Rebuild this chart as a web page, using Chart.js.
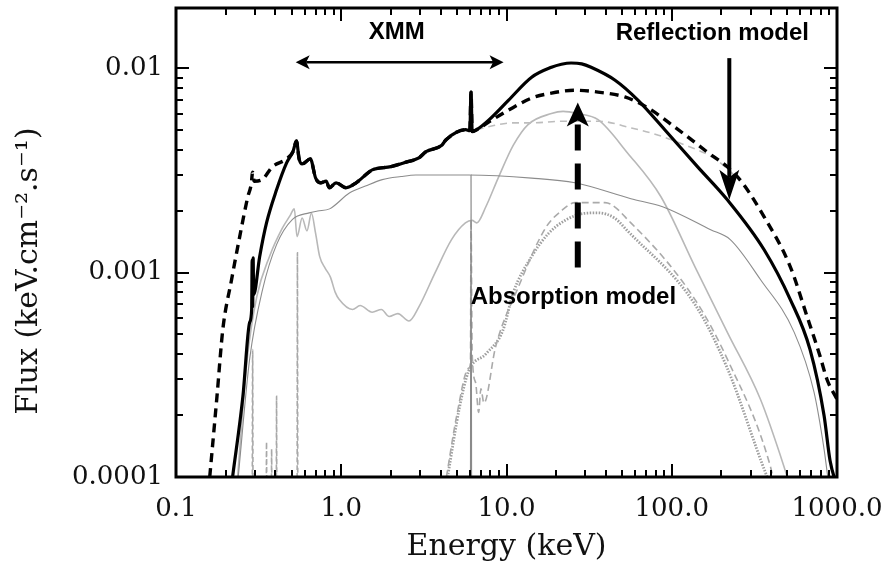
<!DOCTYPE html>
<html>
<head>
<meta charset="utf-8">
<script src="https://cdn.jsdelivr.net/npm/chart.js@4.4.1/dist/chart.umd.min.js"></script>
<style>
  html, body { margin: 0; padding: 0; background: #fff; }
  #wrap { width: 890px; height: 566px; }
</style>
</head>
<body>
<div id="wrap"><canvas id="spectrum" width="890" height="566"></canvas></div>
<script>
// ---------------------------------------------------------------
// Spectral models: energy (keV) vs flux (keV cm-2 s-1)
// ---------------------------------------------------------------

// total, reflection model (thick solid)
const reflTotalE = [0.220, 0.254, 0.279, 0.287, 0.289, 0.291, 0.293, 0.295, 0.321, 0.353, 0.406, 0.467, 0.51, 0.536, 0.556, 0.58,
    0.65, 0.70, 0.75, 0.81, 0.847, 0.93, 1.07, 1.23, 1.47, 1.54, 2.0, 2.47, 2.95, 3.25, 4.06, 4.3, 5.66, 6.0, 6.1,
    6.2, 6.6, 7.8, 10.3, 14.2, 18.7, 21.5, 24.6, 28.5, 32.5, 45.4, 62.4, 90.7, 143.5, 217, 363, 521, 687, 835, 908, 1000];
const reflTotalF = [1.0e-4, 2.48e-4, 5.7e-4, 6.6e-4, 1.15e-3, 6.8e-4, 1.18e-3, 7.8e-4, 1.2e-3, 1.75e-3, 2.54e-3, 3.44e-3, 3.9e-3, 4.4e-3, 3.6e-3, 3.4e-3,
    3.6e-3, 2.9e-3, 2.75e-3, 2.8e-3, 2.6e-3, 2.75e-3, 2.6e-3, 2.75e-3, 3.1e-3, 3.18e-3, 3.3e-3, 3.47e-3, 3.64e-3, 3.9e-3, 4.2e-3, 4.46e-3, 5.0e-3, 4.95e-3, 7.64e-3,
    4.9e-3, 5.0e-3, 5.57e-3, 6.98e-3, 9.03e-3, 1.01e-2, 1.045e-2, 1.06e-2, 1.05e-2, 1.01e-2, 8.73e-3, 6.98e-3, 5.0e-3, 3.29e-3, 2.27e-3, 1.29e-3, 7.4e-4, 4.2e-4, 2.0e-4, 1.2e-4, 9.0e-5];

// total, absorption model (thick dashed); runs under the solid curve from 0.5 to 6.6 keV
const absTotalE = [0.160, 0.177, 0.192, 0.217, 0.243, 0.272, 0.285, 0.291, 0.297, 0.33, 0.384, 0.467, 0.51, 0.536, 0.556, 0.58,
    0.65, 0.70, 0.75, 0.81, 0.847, 0.93, 1.07, 1.23, 1.47, 1.54, 2.0, 2.47, 2.95, 3.25, 4.06, 4.3, 5.66, 6.0, 6.1,
    6.2, 6.6, 7.8, 10.3, 14.2, 18.7, 26, 35.8, 52, 71.6, 104, 158, 250, 363, 521, 659, 790, 870, 1000];
const absTotalF = [1.0e-4, 2.48e-4, 5.27e-4, 9.25e-4, 1.5e-3, 2.35e-3, 2.7e-3, 3.1e-3, 2.8e-3, 2.84e-3, 3.3e-3, 3.6e-3, 3.9e-3, 4.4e-3, 3.6e-3, 3.4e-3,
    3.6e-3, 2.9e-3, 2.75e-3, 2.8e-3, 2.6e-3, 2.75e-3, 2.6e-3, 2.75e-3, 3.1e-3, 3.18e-3, 3.3e-3, 3.47e-3, 3.64e-3, 3.9e-3, 4.2e-3, 4.46e-3, 5.0e-3, 4.95e-3, 7.64e-3,
    4.9e-3, 5.0e-3, 5.45e-3, 6.24e-3, 7.14e-3, 7.55e-3, 7.8e-3, 7.64e-3, 7.23e-3, 6.4e-3, 5.16e-3, 3.98e-3, 2.94e-3, 1.87e-3, 1.07e-3, 6.1e-4, 3.9e-4, 3.0e-4, 2.4e-4];

// reflected component (light grey)
const reflCompE = [0.236, 0.268, 0.308, 0.368, 0.44, 0.49, 0.52, 0.54, 0.58, 0.62, 0.66, 0.70, 0.74, 0.80, 0.86, 0.92, 0.97,
    1.17, 1.3, 1.54, 1.75, 1.95, 2.2, 2.57, 2.95, 3.7, 4.65, 5.64, 6.2, 6.6, 7.5, 8.9, 11, 13.5, 18.7, 22, 27, 35.8,
    54, 86, 138, 217, 344, 477, 520];
const reflCompF = [1.0e-4, 3.6e-4, 7.6e-4, 1.2e-3, 1.65e-3, 1.9e-3, 2.05e-3, 1.5e-3, 1.85e-3, 1.6e-3, 1.95e-3, 1.55e-3, 1.2e-3, 1.05e-3, 9.5e-4, 8.0e-4, 7.4e-4,
    6.6e-4, 6.9e-4, 6.4e-4, 6.6e-4, 6.1e-4, 6.3e-4, 5.8e-4, 6.8e-4, 1.0e-3, 1.45e-3, 1.75e-3, 1.8e-3, 1.75e-3, 2.1e-3, 2.9e-3, 4.2e-3, 5.3e-3, 6.0e-3, 6.15e-3, 6.0e-3, 5.6e-3,
    3.85e-3, 2.35e-3, 1.07e-3, 5.1e-4, 2.4e-4, 1.13e-4, 9.0e-5];

// cut-off power law (thin grey)
const powerLawE = [0.238, 0.279, 0.334, 0.406, 0.507, 0.64, 0.72, 0.85, 1.12, 1.4, 1.77, 2.3, 2.83, 5.9, 14.2, 26,
    56.6, 88, 172, 226, 344, 551, 726, 835, 880, 900];
const powerLawF = [1.0e-4, 3.77e-4, 8.26e-4, 1.37e-3, 1.82e-3, 1.96e-3, 2.0e-3, 2.05e-3, 2.45e-3, 2.65e-3, 2.85e-3, 2.95e-3, 3.0e-3, 3.0e-3, 2.9e-3, 2.75e-3,
    2.3e-3, 2.1e-3, 1.62e-3, 1.45e-3, 9.25e-4, 5.1e-4, 2.6e-4, 1.37e-4, 1.0e-4, 9.0e-5];

// scattered + absorbed continuum of the absorption model (grey dashed, upper)
const scatterE = [6.6, 8.0, 11, 14.2, 22, 36, 57, 83, 112, 183, 250];
const scatterF = [5.0e-3, 5.2e-3, 5.4e-3, 5.4e-3, 5.5e-3, 5.5e-3, 5.1e-3, 4.7e-3, 4.3e-3, 3.6e-3, 2.9e-3];

// absorbed power law with Fe K edge (grey dashed, lower)
const absorbedE = [4.33, 5.0, 5.9, 6.05, 6.1, 6.2, 6.5, 6.78, 7.0, 7.3, 8.6, 11.8, 17.2, 21.4, 26, 39.4, 56.6, 138, 217, 395, 420];
const absorbedF = [1.0e-4, 2.0e-4, 3.4e-4, 3.6e-4, 1.82e-3, 4.0e-4, 2.9e-4, 2.07e-4, 2.7e-4, 2.3e-4, 4.35e-4, 8.5e-4, 1.65e-3, 2.0e-3, 2.2e-3, 2.2e-3, 1.75e-3, 7.4e-4, 3.77e-4, 1.13e-4, 9.0e-5];

// Compton hump of the absorbed component (dotted grey)
const humpE = [4.4, 5.2, 5.9, 7.5, 9.5, 11, 14.2, 17.9, 22.6, 29.8, 35.8, 45, 54, 138, 217, 378, 400];
const humpF = [1.0e-4, 2.2e-4, 3.3e-4, 4.0e-4, 5.2e-4, 8.0e-4, 1.2e-3, 1.55e-3, 1.8e-3, 1.95e-3, 1.96e-3, 1.85e-3, 1.6e-3, 7.0e-4, 3.4e-4, 1.0e-4, 9.0e-5];

// narrow soft X-ray emission lines (grey dashed)
const softLinesE = [0.289, 0.291, 0.293, 0.351, 0.353, 0.355, 0.377, 0.379, 0.381, 0.404, 0.406, 0.408, 0.540, 0.543, 0.546];
const softLinesF = [5e-5, 4.2e-4, 5e-5, 5e-5, 1.48e-4, 5e-5, 5e-5, 1.37e-4, 5e-5, 5e-5, 2.48e-4, 5e-5, 5e-5, 1.25e-3, 5e-5];

// Fe K line (thin grey)
const feLineE = [6.05, 6.1, 6.15];
const feLineF = [5e-5, 3.0e-3, 5e-5];

// axes
const xMajor = [0.1, 1, 10, 100, 1000];
const xTickLabels = ['0.1', '1.0', '10.0', '100.0', '1000.0'];
const yMajor = [0.0001, 0.001, 0.01];
const yTickLabels = ['0.0001', '0.001', '0.01'];

// annotations, placed in data coordinates
const notes = [
    { text: 'XMM', at: [2.17, 0.0150] },
    { text: 'Reflection model', at: [176, 0.0148] },
    { text: 'Absorption model', at: [25.4, 0.00076] },
];
const arrows = [
    { from: [0.53, 0.0107], to: [9.6, 0.0107], both: true, width: 2.5, head: 14, half: 7 },
    { from: [223, 0.0112], to: [223, 0.00227], width: 4, head: 30, half: 10 },
    { from: [27, 0.00106], to: [27, 0.0068], width: 6, head: 24, half: 11, dash: [26, 13] },
];

const pts = (E, F) => E.map((e, i) => ({ x: e, y: F[i] }));

function line(label, E, F, color, width, dash) {
    return {
        label,
        data: pts(E, F),
        borderColor: color,
        borderWidth: width,
        borderDash: dash || [],
        pointRadius: 0,
        cubicInterpolationMode: 'monotone',
        fill: false,
    };
}

const serif = '"DejaVu Serif", serif';

// inward tick marks on all four sides plus the heavy frame
const frameTicks = {
    id: 'frameTicks',
    afterDatasetsDraw(chart) {
        const { ctx, chartArea: a, scales: { x, y } } = chart;
        ctx.save();
        ctx.strokeStyle = '#000';
        ctx.lineWidth = 2;
        ctx.beginPath();
        xMajor.forEach((d, i) => {
            for (let k = 1; k <= 9; k++) {
                const v = d * k;
                if (v > 1000 || (k > 1 && i === xMajor.length - 1)) continue;
                const len = k === 1 ? 13 : 7;
                const px = Math.round(x.getPixelForValue(v));
                ctx.moveTo(px, a.bottom); ctx.lineTo(px, a.bottom - len);
                ctx.moveTo(px, a.top); ctx.lineTo(px, a.top + len);
            }
        });
        yMajor.forEach(d => {
            for (let k = 1; k <= 9; k++) {
                const v = d * k;
                if (v > y.max) continue;
                const len = k === 1 ? 13 : 7;
                const py = Math.round(y.getPixelForValue(v));
                ctx.moveTo(a.left, py); ctx.lineTo(a.left + len, py);
                ctx.moveTo(a.right, py); ctx.lineTo(a.right - len, py);
            }
        });
        ctx.stroke();
        ctx.lineWidth = 3;
        ctx.strokeRect(a.left, a.top, a.right - a.left, a.bottom - a.top);
        ctx.restore();
    },
};

function arrowHead(ctx, x, y, ang, len, half) {
    ctx.save();
    ctx.translate(x, y);
    ctx.rotate(ang);
    ctx.beginPath();
    ctx.moveTo(0, 0);
    ctx.lineTo(-len, -half);
    ctx.lineTo(-len * 0.75, 0);
    ctx.lineTo(-len, half);
    ctx.closePath();
    ctx.fill();
    ctx.restore();
}

const annotate = {
    id: 'annotate',
    afterDraw(chart) {
        const { ctx, scales: { x, y } } = chart;
        ctx.save();
        ctx.fillStyle = '#000';
        ctx.strokeStyle = '#000';
        arrows.forEach(ar => {
            const x0 = x.getPixelForValue(ar.from[0]), y0 = y.getPixelForValue(ar.from[1]);
            const x1 = x.getPixelForValue(ar.to[0]), y1 = y.getPixelForValue(ar.to[1]);
            const ang = Math.atan2(y1 - y0, x1 - x0);
            const cut = ar.head * 0.75;
            const sx0 = ar.both ? x0 + Math.cos(ang) * cut : x0;
            const sy0 = ar.both ? y0 + Math.sin(ang) * cut : y0;
            ctx.lineWidth = ar.width;
            ctx.setLineDash(ar.dash || []);
            ctx.beginPath();
            ctx.moveTo(sx0, sy0);
            ctx.lineTo(x1 - Math.cos(ang) * cut, y1 - Math.sin(ang) * cut);
            ctx.stroke();
            ctx.setLineDash([]);
            arrowHead(ctx, x1, y1, ang, ar.head, ar.half);
            if (ar.both) arrowHead(ctx, x0, y0, ang + Math.PI, ar.head, ar.half);
        });
        ctx.font = 'bold 24px "Liberation Sans", Arial, sans-serif';
        ctx.textAlign = 'center';
        ctx.textBaseline = 'middle';
        notes.forEach(n => {
            ctx.fillText(n.text, x.getPixelForValue(n.at[0]), y.getPixelForValue(n.at[1]));
        });
        ctx.restore();
    },
};

new Chart(document.getElementById('spectrum'), {
    type: 'line',
    data: {
        datasets: [
            line('Reflection model', reflTotalE, reflTotalF, '#000', 3.2),
            line('Absorption model', absTotalE, absTotalF, '#000', 3.4, [9, 6]),
            line('Fe K line', feLineE, feLineF, '#8a8a8a', 1.2),
            line('Soft lines', softLinesE, softLinesF, '#a8a8a8', 1.6, [5, 3]),
            line('Scattered', scatterE, scatterF, '#bdbdbd', 1.6, [7, 5]),
            line('Absorbed', absorbedE, absorbedF, '#aaaaaa', 1.6, [7, 4]),
            line('Hump', humpE, humpF, '#9e9e9e', 2.8, [1.5, 1.5]),
            line('Power law', powerLawE, powerLawF, '#8c8c8c', 1.1),
            line('Reflected', reflCompE, reflCompF, '#b8b8b8', 1.6),
        ],
    },
    options: {
        responsive: false,
        animation: false,
        devicePixelRatio: 1,
        layout: { padding: { top: 8, right: 53, left: 0, bottom: 0 } },
        plugins: {
            legend: { display: false },
            tooltip: { enabled: false },
        },
        scales: {
            x: {
                type: 'logarithmic',
                min: 0.1,
                max: 1000,
                grid: { display: false, drawTicks: false },
                border: { display: false },
                afterBuildTicks: s => { s.ticks = xMajor.map(v => ({ value: v })); },
                afterFit: s => { s.height = 89; s.paddingLeft = 0; s.paddingRight = 0; },
                ticks: {
                    autoSkip: false,
                    maxRotation: 0,
                    padding: 17,
                    color: '#111',
                    font: { family: serif, size: 26 },
                    callback: (v, i) => xTickLabels[i],
                },
                title: {
                    display: true,
                    text: 'Energy (keV)',
                    color: '#111',
                    font: { family: serif, size: 30 },
                    padding: { top: 0, bottom: 1 },
                },
            },
            y: {
                type: 'logarithmic',
                min: 0.0001,
                max: 0.0197,
                grid: { display: false, drawTicks: false },
                border: { display: false },
                afterBuildTicks: s => { s.ticks = yMajor.map(v => ({ value: v })); },
                afterFit: s => { s.width = 176; s.paddingTop = 0; s.paddingBottom = 0; },
                ticks: {
                    autoSkip: false,
                    padding: 13,
                    color: '#111',
                    font: { family: serif, size: 26 },
                    callback: (v, i) => yTickLabels[i],
                },
                title: {
                    display: true,
                    // trailing spaces push the rotated label a little lower on the axis
                    text: 'Flux (keV.cm⁻².s⁻¹)      ',
                    color: '#111',
                    font: { family: serif, size: 30 },
                    padding: { top: 11, bottom: 0 },
                },
            },
        },
    },
    plugins: [frameTicks, annotate],
});
</script>
</body>
</html>
